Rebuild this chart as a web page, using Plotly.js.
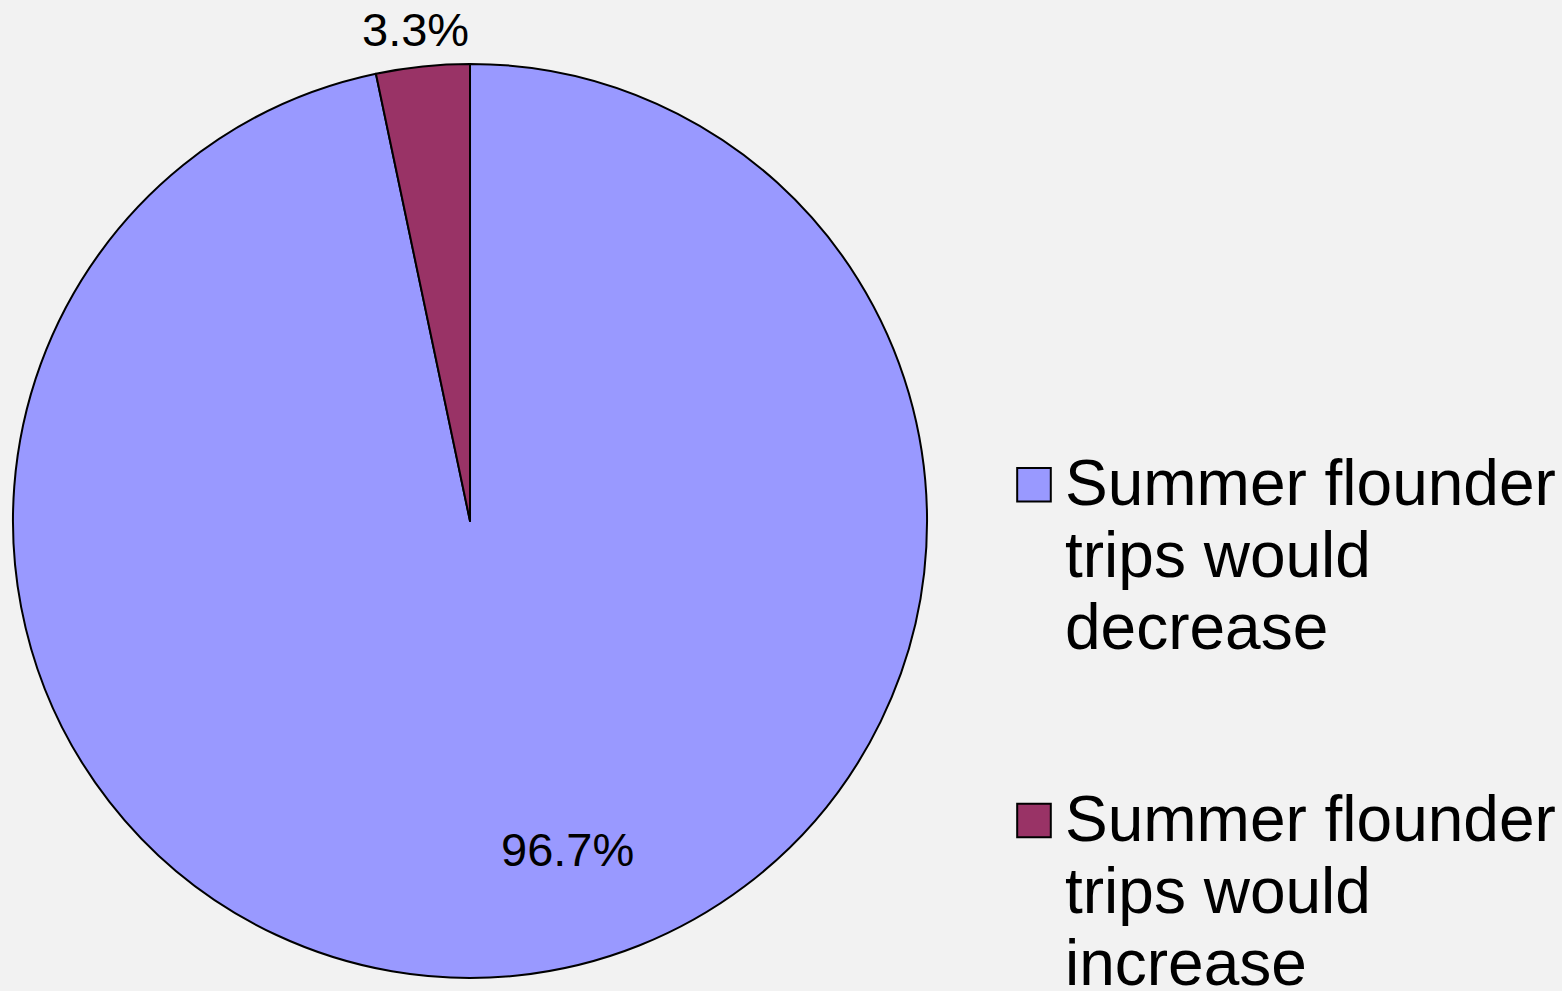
<!DOCTYPE html>
<html>
<head>
<meta charset="utf-8">
<script src="https://cdn.plot.ly/plotly-3.0.1.min.js"></script>
<style>
  html, body { margin: 0; padding: 0; background: #f2f2f2; }
  #chart { width: 1562px; height: 991px; }
</style>
</head>
<body>
<div id="chart"></div>
<script>
// Share of respondents: how summer flounder trips would change
const labels = [
    'Summer flounder<br>trips would<br>decrease<br> ',
    'Summer flounder<br>trips would<br>increase'
];
const shares = [96.7, 3.3];
const sliceColors = ['#9999ff', '#993366'];
// where each percentage label sits (paper coords), as in the original Excel chart
const labelX = [0.3636, 0.2663];
const labelY = [0.1430, 0.9700];

const labelFont = { family: 'Liberation Sans, Arial, sans-serif', size: 47, color: '#000000' };

const pctAnnotations = shares.map((v, i) => ({
    text: v.toFixed(1) + '%',
    x: labelX[i],
    y: labelY[i],
    xref: 'paper',
    yref: 'paper',
    xanchor: 'center',
    yanchor: 'middle',
    showarrow: false,
    font: labelFont
}));

Plotly.newPlot('chart', [{
    type: 'pie',
    labels: labels,
    values: shares,
    textinfo: 'none',
    sort: false,
    direction: 'clockwise',
    rotation: 0,
    marker: {
        colors: sliceColors,
        line: { color: '#000000', width: 2 }
    },
    domain: { x: [0.0083, 0.5935], y: [0.0131, 0.9355] },
    hoverinfo: 'none'
}], {
    width: 1562,
    height: 991,
    paper_bgcolor: '#f2f2f2',
    plot_bgcolor: '#f2f2f2',
    margin: { t: 0, b: 0, l: 0, r: 0, autoexpand: false },
    annotations: pctAnnotations,
    showlegend: true,
    legend: {
        x: 0.6498,
        xanchor: 'left',
        y: 0.564,
        yanchor: 'top',
        valign: 'top',
        itemwidth: 40,
        bgcolor: 'rgba(0,0,0,0)',
        font: { family: 'Liberation Sans, Arial, sans-serif', size: 64, color: '#000000' }
    }
}, { displayModeBar: false, staticPlot: true }).then(function(gd) {
    // bigger legend squares, like the reference
    gd.querySelectorAll('.legendpoints path').forEach(function(p) {
        p.setAttribute('transform', 'translate(19,4.5) scale(2.8)');
        p.setAttribute('vector-effect', 'non-scaling-stroke');
    });
    // tighter line spacing inside legend labels
    gd.querySelectorAll('.legendtext tspan.line').forEach(function(t) {
        const dy = parseFloat(t.getAttribute('dy'));
        if (dy) t.setAttribute('dy', (dy * 1.125 / 1.3) + 'em');
    });
});
</script>
</body>
</html>
